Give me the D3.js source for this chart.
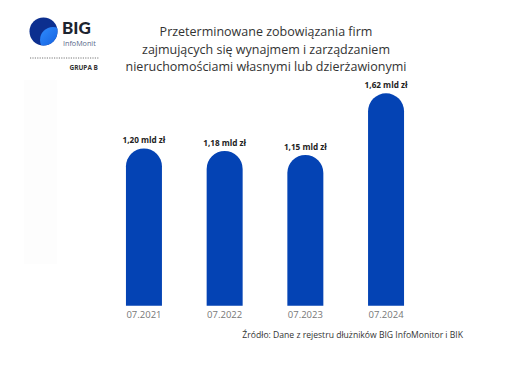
<!DOCTYPE html>
<html>
<head>
<meta charset="utf-8">
<script src="https://cdn.jsdelivr.net/npm/d3@7"></script>
<style>
  body { margin: 0; background: #fff; }
  svg { display: block; font-family: "Open Sans", sans-serif; }
</style>
</head>
<body>
<div id="chart"></div>
<script>
const periods = ["07.2021", "07.2022", "07.2023", "07.2024"];
const debt = [1.20, 1.18, 1.15, 1.62];
const valueLabels = ["1,20 mld zł", "1,18 mld zł", "1,15 mld zł", "1,62 mld zł"];
const titleLines = [
  "Przeterminowane zobowiązania firm",
  "zajmujących się wynajmem i zarządzaniem",
  "nieruchomościami własnymi lub dzierżawionymi"
];
const sourceText = "Źródło: Dane z rejestru dłużników BIG InfoMonitor i BIK";

const width = 507, height = 370;
const svg = d3.select("#chart").append("svg")
  .attr("width", width).attr("height", height);

// faint panel on the left
svg.append("rect")
  .attr("x", 24).attr("y", 80).attr("width", 33).attr("height", 184)
  .attr("fill", "#fdfdfd");

// logo
const defs = svg.append("defs");
const grad = defs.append("linearGradient").attr("id", "lg")
  .attr("x1", "0").attr("y1", "0").attr("x2", "1").attr("y2", "1");
grad.append("stop").attr("offset", "0%").attr("stop-color", "#2f8cff");
grad.append("stop").attr("offset", "100%").attr("stop-color", "#0a4fd0");
defs.append("clipPath").attr("id", "logoClip")
  .append("circle").attr("cx", 43.5).attr("cy", 31.5).attr("r", 14);

const logo = svg.append("g");
logo.append("circle").attr("cx", 43.5).attr("cy", 31.5).attr("r", 14).attr("fill", "#0c2f8f");
logo.append("circle").attr("cx", 53).attr("cy", 40).attr("r", 13)
  .attr("fill", "url(#lg)").attr("clip-path", "url(#logoClip)");
logo.append("text").attr("x", 62).attr("y", 33.5)
  .attr("font-size", 17).attr("font-weight", 900).attr("fill", "#1d2430")
  .attr("font-family", "Lato, sans-serif").text("BIG");
logo.append("text").attr("x", 63).attr("y", 46)
  .attr("font-size", 7.2).attr("fill", "#5a6a8a").text("InfoMonit");
logo.append("line").attr("x1", 30).attr("x2", 99).attr("y1", 58).attr("y2", 58)
  .attr("stroke", "#777").attr("stroke-width", 1).attr("stroke-dasharray", "1.2,1.2");
logo.append("text").attr("x", 98).attr("y", 69.5).attr("text-anchor", "end")
  .attr("font-size", 6.5).attr("font-weight", 700).attr("fill", "#333")
  .text("GRUPA B");

// title
svg.append("g").selectAll("text")
  .data(titleLines)
  .join("text")
  .attr("x", 266)
  .attr("y", (d, i) => 36 + i * 17.5)
  .attr("text-anchor", "middle")
  .attr("font-size", 12.5)
  .attr("fill", "#333")
  .text(d => d);

// scales
const x = d3.scaleBand()
  .domain(periods)
  .range([103.6, 426.4])
  .paddingInner(0.554)
  .paddingOuter(0.277);
const y = d3.scaleLinear()
  .domain([0, 1.62])
  .range([305.7, 93.3]);

const data = periods.map((p, i) => ({ p, v: debt[i], label: valueLabels[i] }));

// bars with rounded tops
const bw = x.bandwidth();
const r = bw / 2;
svg.append("g").selectAll("path")
  .data(data)
  .join("path")
  .attr("fill", "#0443b4")
  .attr("d", d => {
    const x0 = x(d.p), top = y(d.v), bottom = y(0);
    return `M${x0},${bottom}V${top + r}A${r},${r} 0 0 1 ${x0 + bw},${top + r}V${bottom}Z`;
  });

// value labels
svg.append("g").selectAll("text")
  .data(data)
  .join("text")
  .attr("x", d => x(d.p) + bw / 2)
  .attr("y", d => y(d.v) - 5)
  .attr("text-anchor", "middle")
  .attr("font-size", 8.2)
  .attr("font-weight", 700)
  .attr("fill", "#222")
  .text(d => d.label);

// x axis
const xAxis = svg.append("g")
  .attr("transform", `translate(0,${y(0)})`)
  .call(d3.axisBottom(x).tickSize(0).tickPadding(6));
xAxis.select(".domain").remove();
xAxis.selectAll("text")
  .attr("font-size", 9.5)
  .attr("font-family", "Open Sans, sans-serif")
  .attr("fill", "#777");

// source
svg.append("text")
  .attr("x", 463).attr("y", 338)
  .attr("text-anchor", "end")
  .attr("font-size", 8.6)
  .attr("fill", "#333")
  .text(sourceText);
</script>
</body>
</html>
